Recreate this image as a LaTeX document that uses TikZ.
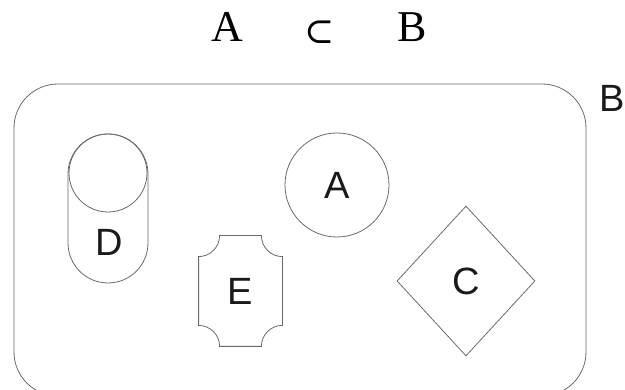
\documentclass[tikz,border=0pt]{standalone}
\usepackage{fontspec}
\usepackage{tikz}
\usetikzlibrary{shapes.geometric, positioning, calc}
\newfontfamily\labelfont{Liberation Sans}
\newfontfamily\titlefont{Liberation Serif}
\newfontfamily\symbfont{DejaVu Serif}
\definecolor{outline}{HTML}{6A6A6A}
\definecolor{dark}{HTML}{1A1A1A}
\tikzset{
    setshape/.style={
        draw=outline, line width=0.8pt, inner sep=0pt,
        font=\labelfont\fontsize{38}{38}\selectfont, text=dark
    },
    titletext/.style={
        font=\titlefont\fontsize{44}{44}\selectfont, text=black, inner sep=0pt
    },
    outerset/.style={
        rectangle, rounded corners=44pt, draw=outline, line width=0.8pt,
        minimum width=572pt, minimum height=312pt
    },
}

\begin{document}
\begin{tikzpicture}[x=1pt, y=1pt]
    \useasboundingbox (0,0) rectangle (625,390);
    \clip (0,0) rectangle (625,390);

    % Title
    \node[titletext] (titleA) at (227,363) {A};
    \node[titletext, font=\symbfont\fontsize{36}{36}\selectfont] (titlesub) at (320,358) {⊂};
    \node[titletext] (titleB) at (412,363) {B};

    % Outer set
    \node[outerset] (setB) at (300,150) {};
    \node[setshape, draw=none] (labB) at (612,292) {B};

    % Inner sets
    \node[setshape, circle, minimum size=104pt] (setA) at (337,205) {A};
    \node[setshape, rectangle, rounded corners=40pt, minimum width=80pt, minimum height=149pt] (setD) at (108,181.5) {};
    \node[setshape, circle, minimum size=78pt, anchor=north] (topD) at (setD.north) {};
    \node[setshape, draw=none] (labD) at (109,148) {D};
    \node[setshape, diamond, aspect=0.92, minimum width=138pt, minimum height=150pt] (setC) at (466,109) {C};
    \node[setshape, draw=none, minimum width=83pt, minimum height=110pt] (setE) at (240.5,99) {E};
    \draw[outline, line width=0.8pt]
        ([xshift=21pt]setE.north west) -- ([xshift=-21pt]setE.north east)
        arc (180:270:21pt) -- ([yshift=21pt]setE.south east)
        arc (90:180:21pt) -- ([xshift=21pt]setE.south west)
        arc (0:90:21pt) -- ([yshift=-21pt]setE.north west)
        arc (270:360:21pt) -- cycle;

\end{tikzpicture}
\end{document}
